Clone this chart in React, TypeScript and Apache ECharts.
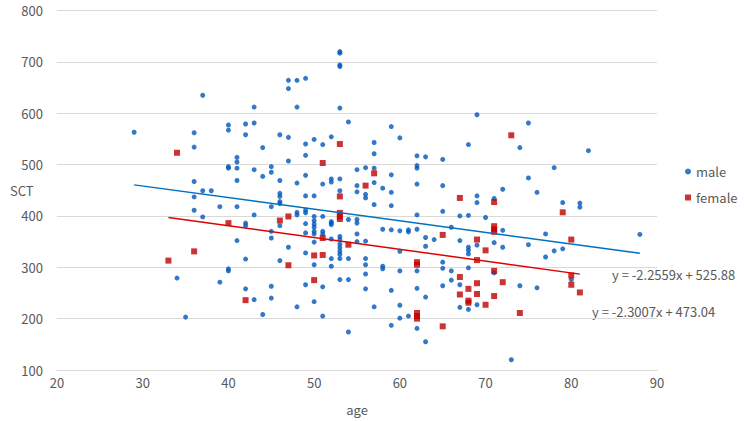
import React, { useEffect, useRef } from "react";
import * as echarts from "echarts";

const maleData: [number, number][] = [
  [29,563],[34,279],[35,203],[36,562],[36,534],[36,467],[36,437],[36,411],[37,635],[37,449],[37,398],[38,449],[39,418],[39,271],[40,577],[40,567],[40,496],[40,493],[40,297],[40,293],[41,514],[41,505],[41,493],[41,469],[41,418],[41,352],
  [42,579],[42,558],[42,386],[42,381],[42,316],[42,258],[43,612],[43,581],[43,490],[43,402],[43,237],[44,533],[44,477],[44,208],[45,496],[45,485],[45,418],[45,370],[45,357],[45,263],[45,240],
  [46,558],[46,469],[46,444],[46,438],[46,428],[46,424],[46,381],[46,313],[47,664],[47,648],[47,553],[47,507],[47,339],[48,664],[48,612],[48,464],[48,407],[48,402],[48,223],[49,668],[49,540],[49,518],[49,479],[49,439],[49,411],[49,406],[49,385],[49,367],[49,328],[49,266],
  [50,549],[50,439],[50,399],[50,391],[50,384],[50,378],[50,370],[50,365],[50,349],[50,305],[50,233],[51,539],[51,462],[51,399],[51,370],[51,365],[51,262],[51,205],[52,554],[52,472],[52,466],[52,389],[52,386],[52,383],[52,355],[52,317],[52,302],
  [53,720],[53,717],[53,694],[53,691],[53,610],[53,472],[53,449],[53,360],[53,354],[53,345],[53,338],[53,331],[53,325],[53,317],[53,276],[54,583],[54,393],[54,317],[54,276],[54,174],[55,490],[55,459],[55,447],[55,393],[55,386],[55,365],[55,350],[56,494],[56,442],[56,435],[56,351],[56,317],[56,305],[56,287],[56,258],
  [57,543],[57,521],[57,493],[57,465],[57,422],[57,223],[58,454],[58,374],[58,302],[58,297],[59,574],[59,480],[59,446],[59,420],[59,373],[59,255],[59,187],[60,552],[60,371],[60,331],[60,293],[60,226],[60,201],[61,373],[61,369],[61,205],
  [62,517],[62,498],[62,493],[62,462],[62,402],[62,374],[62,293],[62,259],[62,181],[63,515],[63,358],[63,341],[63,242],[63,155],[64,354],[65,510],[65,459],[65,409],[65,310],[65,298],[65,264],[66,378],[66,293],[66,275],[67,400],[67,352],[67,266],[67,222],[68,539],[68,401],[68,339],[68,333],[68,326],[68,299],[68,218],
  [69,597],[69,439],[69,426],[69,343],[69,227],[70,397],[71,434],[71,348],[71,289],[72,452],[72,372],[72,339],[73,120],[74,533],[74,264],[75,581],[75,474],[75,344],[76,446],[76,260],[77,365],[77,320],[78,494],[78,332],[79,426],[79,336],[80,276],[81,425],[81,417],[82,527],[88,364]
];

const femaleData: [number, number][] = [
  [33,313],[34,523],[36,331],[40,386],[42,236],[46,391],[47,399],[47,304],[50,323],[50,275],[51,503],[51,357],[51,324],[53,540],[53,438],[53,406],[53,399],[53,394],[54,344],[56,459],[57,483],
  [62,310],[62,305],[62,211],[62,205],[62,200],[65,363],[65,185],[67,435],[67,281],[67,247],[68,258],[68,235],[68,231],[69,354],[69,314],[69,269],[69,248],[70,333],[70,227],
  [71,427],[71,380],[71,374],[71,369],[71,293],[71,244],[72,271],[73,557],[74,211],[79,407],[80,354],[80,284],[80,266],[81,251]
];

const maleFit = { slope: -2.2559, intercept: 525.88, from: 29, to: 88 };
const femaleFit = { slope: -2.3007, intercept: 473.04, from: 33, to: 81 };
const maleEquation = "y = -2.2559x + 525.88";
const femaleEquation = "y = -2.3007x + 473.04";

const fitLine = (f: { slope: number; intercept: number; from: number; to: number }) => [
  [f.from, f.slope * f.from + f.intercept],
  [f.to, f.slope * f.to + f.intercept],
];

const FONT = "'Noto Sans CJK JP', 'Noto Sans', sans-serif";
const GRAY = "#595959";
const BLUE = "#0058BA";
const RED = "#C00000";

export default function App() {
  const ref = useRef<HTMLDivElement>(null);
  useEffect(() => {
    if (!ref.current) return;
    const chart = echarts.init(ref.current, undefined, { renderer: "svg" });
    chart.setOption({
      animation: false,
      backgroundColor: "#ffffff",
      textStyle: { fontFamily: FONT },
      grid: { left: 57, right: 92, top: 10.5, bottom: 50.5, containLabel: false },
      xAxis: {
        type: "value",
        min: 20,
        max: 90,
        interval: 10,
        name: "age",
        nameLocation: "middle",
        nameGap: 33,
        nameTextStyle: { color: GRAY, fontSize: 13, fontFamily: FONT },
        axisLine: { show: true, lineStyle: { color: "#d9d9d9", width: 1 } },
        axisTick: { show: false },
        splitLine: { show: false },
        axisLabel: { color: GRAY, fontSize: 13, margin: 6, fontFamily: FONT },
      },
      yAxis: {
        type: "value",
        min: 100,
        max: 800,
        interval: 100,
        axisLine: { show: false },
        axisTick: { show: false },
        splitLine: { show: true, lineStyle: { color: "#d9d9d9", width: 1 } },
        axisLabel: { color: GRAY, fontSize: 13, margin: 14, fontFamily: FONT },
      },
      legend: {
        data: ["male", "female"],
        orient: "vertical",
        left: 680,
        top: 160,
        itemWidth: 6,
        itemHeight: 6,
        itemGap: 13,
        textStyle: { color: GRAY, fontSize: 13, fontFamily: FONT },
      },
      graphic: [
        { type: "text", left: 10, top: 184, style: { text: "SCT", fill: GRAY, font: `13px ${FONT}` } },
        { type: "text", left: 612, top: 268, style: { text: maleEquation, fill: GRAY, font: `13px ${FONT}` } },
        { type: "text", left: 592, top: 305, style: { text: femaleEquation, fill: GRAY, font: `13px ${FONT}` } },
      ],
      series: [
        {
          name: "male",
          type: "scatter",
          symbol: "circle",
          symbolSize: 5,
          itemStyle: { color: BLUE },
          data: maleData,
          z: 3,
        },
        {
          name: "female",
          type: "scatter",
          symbol: "rect",
          symbolSize: 6,
          itemStyle: { color: RED },
          data: femaleData,
          z: 3,
        },
        {
          name: "male trend",
          type: "line",
          data: fitLine(maleFit),
          symbol: "none",
          lineStyle: { color: "#0070C0", width: 1.5 },
          silent: true,
          z: 4,
        },
        {
          name: "female trend",
          type: "line",
          data: fitLine(femaleFit),
          symbol: "none",
          lineStyle: { color: "#E00000", width: 1.5 },
          silent: true,
          z: 4,
        },
      ],
    });
    return () => chart.dispose();
  }, []);
  return <div ref={ref} style={{ width: 749, height: 421, position: "absolute", left: 0, top: 0 }} />;
}
